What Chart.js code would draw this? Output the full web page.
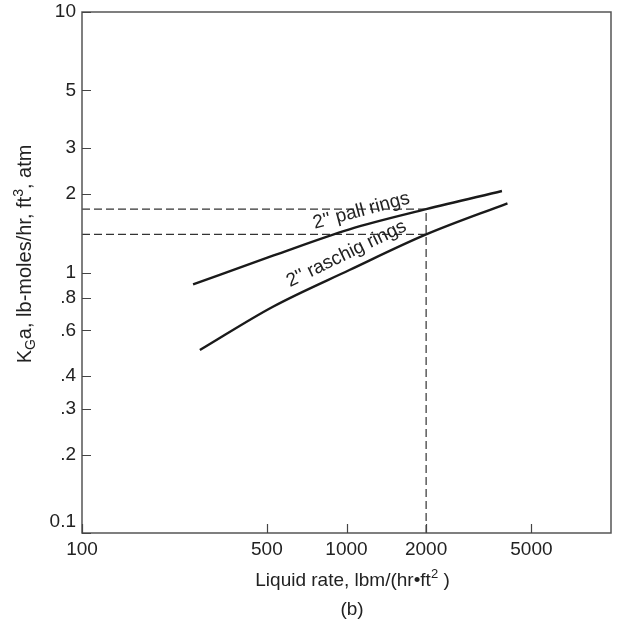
<!DOCTYPE html>
<html>
<head>
<meta charset="utf-8">
<script src="https://cdn.jsdelivr.net/npm/chart.js@4.4.1/dist/chart.umd.min.js"></script>
<style>
  body { margin: 0; background: #fff; }
  #wrap { width: 618px; height: 627px; }
</style>
</head>
<body>
<div id="wrap"><canvas id="kgaChart" width="618" height="627"></canvas></div>
<script>
// KGa vs liquid rate (log-log)
const pallRate = [263, 527, 1026, 2000, 3870];
const pallKga = [0.90, 1.16, 1.465, 1.75, 2.055];
const raschigRate = [279, 527, 1026, 2000, 4060];
const raschigKga = [0.504, 0.739, 1.022, 1.40, 1.844];

// dashed read-off lines at 2000 lbm/(hr ft2)
const readRate = [100, 2000, 2000];
const readPall = [1.75, 1.75, 0.1];
const readRaschRate = [100, 2000];
const readRaschig = [1.40, 1.40];

const xTicks = [100, 500, 1000, 2000, 5000];
const xTickLabels = ['100', '500', '1000', '2000', '5000'];
const yTicks = [0.1, 0.2, 0.3, 0.4, 0.6, 0.8, 1, 2, 3, 5, 10];
const yTickLabels = ['0.1', '.2', '.3', '.4', '.6', '.8', '1', '2', '3', '5', '10'];

const curveNames = ["2'' pall rings", "2'' raschig rings"];

const FONT = "'Liberation Sans', Arial, Helvetica, sans-serif";
const INK = '#222';

function pts(xs, ys) {
  return xs.map((x, i) => ({ x: x, y: ys[i] }));
}

// labels sitting on the curves (anchor in data units, angle in degrees)
const curveNotes = [
  { text: curveNames[0], x: 1152, y: 1.65, angle: -15 },
  { text: curveNames[1], x: 1019, y: 1.13, angle: -26 }
];

const decorPlugin = {
  id: 'decor',
  afterDatasetsDraw(chart) {
    const ctx = chart.ctx;
    const xs = chart.scales.x, ys = chart.scales.y;
    ctx.save();
    ctx.fillStyle = INK;
    ctx.font = '19px ' + FONT;
    ctx.textAlign = 'center';
    ctx.textBaseline = 'alphabetic';
    curveNotes.forEach(n => {
      ctx.save();
      ctx.translate(xs.getPixelForValue(n.x), ys.getPixelForValue(n.y));
      ctx.rotate(n.angle * Math.PI / 180);
      ctx.fillText(n.text, 0, 0);
      ctx.restore();
    });
    ctx.restore();
  },
  afterDraw(chart) {
    const ctx = chart.ctx;
    const a = chart.chartArea;
    const xs = chart.scales.x, ys = chart.scales.y;
    ctx.save();

    // frame
    ctx.strokeStyle = '#555';
    ctx.lineWidth = 1.5;
    ctx.strokeRect(a.left, a.top, a.right - a.left, a.bottom - a.top);

    // inward tick marks
    ctx.strokeStyle = '#444';
    ctx.lineWidth = 1.2;
    ctx.beginPath();
    ys.ticks.forEach(t => {
      const y = Math.round(ys.getPixelForValue(t.value)) + 0.5;
      ctx.moveTo(a.left, y);
      ctx.lineTo(a.left + 9, y);
    });
    xs.ticks.forEach(t => {
      const x = Math.round(xs.getPixelForValue(t.value)) + 0.5;
      ctx.moveTo(x, a.bottom);
      ctx.lineTo(x, a.bottom - 9);
    });
    ctx.stroke();

    ctx.fillStyle = INK;
    ctx.textBaseline = 'alphabetic';
    ctx.textAlign = 'left';

    // y title with subscript / superscript
    const big = '19px ' + FONT, small = '13px ' + FONT;
    const ybig = '20px ' + FONT, ysmall = '14px ' + FONT;
    const yParts = [['K', ybig, 0], ['G', ysmall, 4], ['a, lb-moles/hr, ft', ybig, 0], ['3', ysmall, -8], [', atm', ybig, 0]];
    let total = 0;
    yParts.forEach(p => { ctx.font = p[1]; total += ctx.measureText(p[0]).width; });
    ctx.save();
    ctx.translate(31, 254 + total / 2);
    ctx.rotate(-Math.PI / 2);
    let pos = 0;
    yParts.forEach(p => {
      ctx.font = p[1];
      ctx.fillText(p[0], pos, p[2]);
      pos += ctx.measureText(p[0]).width;
    });
    ctx.restore();

    // x title
    const xParts = [['Liquid rate, lbm/(hr\u2022ft', big, 0], ['2', small, -8], [' )', big, 0]];
    total = 0;
    xParts.forEach(p => { ctx.font = p[1]; total += ctx.measureText(p[0]).width; });
    pos = 352.5 - total / 2;
    xParts.forEach(p => {
      ctx.font = p[1];
      ctx.fillText(p[0], pos, 586 + p[2]);
      pos += ctx.measureText(p[0]).width;
    });

    // panel tag
    ctx.font = big;
    ctx.textAlign = 'center';
    ctx.fillText('(b)', 352, 615);
    ctx.restore();
  }
};

const solid = { borderColor: '#1a1a1a', borderWidth: 2.4, pointRadius: 0, showLine: true, cubicInterpolationMode: 'monotone', fill: false };
const dashed = { borderColor: '#333', borderWidth: 1.2, borderDash: [8, 4], pointRadius: 0, showLine: true, tension: 0, fill: false };

new Chart(document.getElementById('kgaChart'), {
  type: 'scatter',
  data: {
    datasets: [
      Object.assign({ label: curveNames[0], data: pts(pallRate, pallKga) }, solid),
      Object.assign({ label: curveNames[1], data: pts(raschigRate, raschigKga) }, solid),
      Object.assign({ label: 'pall read-off', data: pts(readRate, readPall) }, dashed),
      Object.assign({ label: 'raschig read-off', data: pts(readRaschRate, readRaschig) }, dashed)
    ]
  },
  options: {
    responsive: false,
    animation: false,
    layout: { padding: { left: 0, right: 7, top: 12, bottom: 0 } },
    plugins: { legend: { display: false }, tooltip: { enabled: false } },
    scales: {
      x: {
        type: 'logarithmic',
        min: 100,
        max: 10000,
        grid: { display: false, drawTicks: false },
        border: { display: false },
        afterBuildTicks: s => { s.ticks = xTicks.map(v => ({ value: v })); },
        afterFit: s => { s.height = 94; s.paddingLeft = 0; s.paddingRight = 0; },
        ticks: {
          autoSkip: false,
          maxRotation: 0,
          padding: 5,
          color: INK,
          font: { family: FONT, size: 19 },
          callback: (v, i) => xTickLabels[i]
        }
      },
      y: {
        type: 'logarithmic',
        min: 0.1,
        max: 10,
        grid: { display: false, drawTicks: false },
        border: { display: false },
        afterBuildTicks: s => { s.ticks = yTicks.map(v => ({ value: v })); },
        afterFit: s => { s.width = 82; s.paddingTop = 0; s.paddingBottom = 0; },
        ticks: {
          autoSkip: false,
          padding: 6,
          color: INK,
          font: { family: FONT, size: 19 },
          // lowest label sits above the corner
          callback: (v, i) => i === 0 ? [yTickLabels[i], ''] : yTickLabels[i]
        }
      }
    }
  },
  plugins: [decorPlugin]
});
</script>
</body>
</html>
